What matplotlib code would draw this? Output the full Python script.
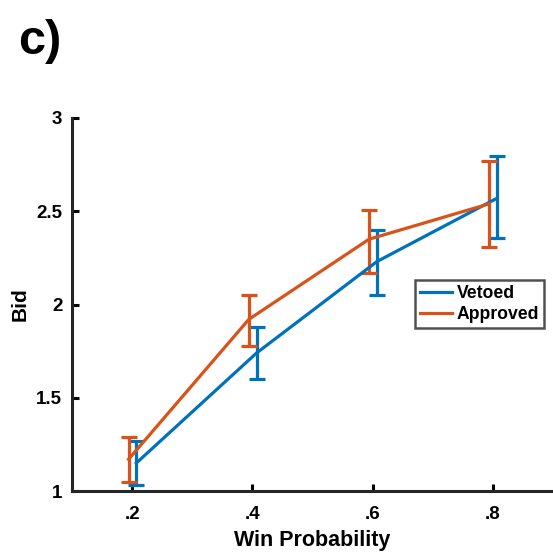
import matplotlib.pyplot as plt
import numpy as np

plt.rcParams["font.family"] = ["Liberation Sans", "DejaVu Sans"]
plt.rcParams["font.weight"] = "bold"

win_prob = np.array([0.2, 0.4, 0.6, 0.8])
vetoed_mean = [1.15, 1.74, 2.23, 2.57]
vetoed_low = [1.03, 1.60, 2.05, 2.355]
vetoed_high = [1.27, 1.88, 2.40, 2.795]
approved_mean = [1.17, 1.92, 2.35, 2.54]
approved_low = [1.05, 1.78, 2.17, 2.31]
approved_high = [1.29, 2.05, 2.505, 2.77]
tick_labels = [".2", ".4", ".6", ".8"]

BLUE = "#0072BD"
ORANGE = "#D95319"

fig = plt.figure(figsize=(5.53, 5.52), dpi=100)
ax = fig.add_axes([72 / 553, 61 / 552, 481 / 553, 373 / 552])

# small horizontal offsets so the bars don't overlap
x_v = win_prob + 0.007
x_a = win_prob - 0.006

ax.errorbar(x_v, vetoed_mean,
            yerr=[np.subtract(vetoed_mean, vetoed_low), np.subtract(vetoed_high, vetoed_mean)],
            color=BLUE, lw=2.3, elinewidth=2.3, capsize=6, capthick=2.3, label="Vetoed")
ax.errorbar(x_a, approved_mean,
            yerr=[np.subtract(approved_mean, approved_low), np.subtract(approved_high, approved_mean)],
            color=ORANGE, lw=2.3, elinewidth=2.3, capsize=6, capthick=2.3, label="Approved")

ax.set_xlim(0.1, 0.9)
ax.set_ylim(1, 3)
ax.set_xticks(win_prob)
ax.set_xticklabels(tick_labels)
ax.set_yticks([1, 1.5, 2, 2.5, 3])
ax.set_yticklabels(["1", "1.5", "2", "2.5", "3"])
ax.tick_params(direction="in", length=5, width=2.2, labelsize=13.5)
ax.tick_params(axis="x", pad=11)
ax.tick_params(axis="y", pad=7)
for s in ["top", "right"]:
    ax.spines[s].set_visible(False)
for s in ["left", "bottom"]:
    ax.spines[s].set_linewidth(2.2)
    ax.spines[s].set_color("#262626")

ax.set_xlabel("Win Probability", fontsize=15.5, fontweight="bold", labelpad=5)
ax.set_ylabel("Bid", fontsize=15, fontweight="bold", labelpad=5)

handles, labels = ax.get_legend_handles_labels()
handles = [h[0] for h in handles]
leg = ax.legend(handles, labels, loc="upper left", bbox_to_anchor=(343 / 481, 1 - 162 / 373),
                fontsize=12.7, frameon=True, fancybox=False, handlelength=1.8,
                handletextpad=0.25, borderpad=0.3, labelspacing=0.2, borderaxespad=0)
leg.get_frame().set_edgecolor("#262626")
leg.get_frame().set_linewidth(1.8)
for t in leg.get_texts():
    t.set_fontweight("bold")

fig.text(18 / 553, 1 - 42 / 552, "c)", fontsize=35, fontweight="bold", va="center", ha="left")

fig.savefig("out.png", dpi=100)
